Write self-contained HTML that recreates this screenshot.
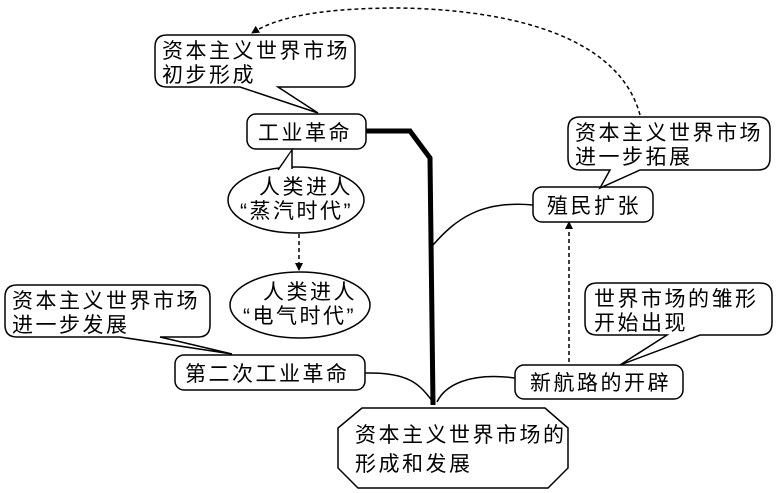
<!DOCTYPE html>
<html><head><meta charset="utf-8"><style>
html,body{margin:0;padding:0;background:#fff;}
svg{display:block;}
text{font-family:"Liberation Sans","Noto Sans CJK SC",sans-serif;font-size:21px;letter-spacing:2.5px;fill:#000;}
</style></head><body>
<svg width="779" height="493" viewBox="0 0 779 493" xmlns="http://www.w3.org/2000/svg">
<defs>
<marker id="ah" markerWidth="8" markerHeight="8" refX="7" refY="4" orient="auto" markerUnits="userSpaceOnUse"><path d="M0,0 L8,4 L0,8 z" fill="#000"/></marker>
</defs>
<g fill="none" stroke="#000" stroke-width="1.5">
<path d="M366,131 L410,131 L430,158 L433,405" stroke-width="5"/>
<path d="M365,373 C410,372 420,385 433,402"/>
<path d="M515,378 C470,372 445,385 437,402"/>
<path d="M533,205 C480,200 455,220 433,245"/>
<path d="M299,234 L299,270" stroke-dasharray="4,3" marker-end="url(#ah)"/>
<path d="M569,362 L569,222" stroke-dasharray="4,3" marker-end="url(#ah)"/>
<path d="M640,115 C620,40 520,10 400,8 C330,8 280,15 252,33" stroke-dasharray="4,3" marker-end="url(#ah)"/>
</g>
<g fill="#fff" stroke="#000" stroke-width="1.5">
<path d="M167,35 L343,35 Q355,35 355,47 L355,75 Q355,87 343,87 L278,87 L318,113 L240,87 L167,87 Q155,87 155,75 L155,47 Q155,35 167,35 Z"/>
<rect x="247" y="114" width="119" height="35" rx="9"/>
<ellipse cx="296" cy="200" rx="68" ry="33"/>
<path d="M278,170 L292,150 L292,169" />
<path d="M279,171 L291,152 L291,170 Z" stroke="none"/>
<ellipse cx="300" cy="305" rx="70" ry="33"/>
<path d="M17,285 L198,285 Q210,285 210,297 L210,325 Q210,337 198,337 L160,337 L232,354 L120,337 L17,337 Q5,337 5,325 L5,297 Q5,285 17,285 Z"/>
<rect x="175" y="355" width="190" height="35" rx="9"/>
<path d="M362,408 L545,408 L568,428 L568,468 L548,488 L358,488 L338,468 L338,428 Z"/>
<rect x="515" y="365" width="168" height="34" rx="9"/>
<path d="M597,283 L760,283 Q772,283 772,295 L772,323 Q772,335 760,335 L700,335 L620,365 L667,335 L597,335 Q585,335 585,323 L585,295 Q585,283 597,283 Z"/>
<rect x="533" y="187" width="120" height="35" rx="9"/>
<path d="M580,117 L758,117 Q770,117 770,129 L770,158 Q770,170 758,170 L640,170 L600,188 L610,170 L580,170 Q568,170 568,158 L568,129 Q568,117 580,117 Z"/>
</g>
<text x="162" y="58">资本主义世界市场</text>
<text x="162" y="82">初步形成</text>
<text x="258" y="140">工业革命</text>
<text x="259" y="194">人类进人</text>
<text x="240" y="218">“蒸汽时代”</text>
<text x="263" y="299">人类进人</text>
<text x="243" y="323">“电气时代”</text>
<text x="12" y="308">资本主义世界市场</text>
<text x="12" y="332">进一步发展</text>
<text x="185" y="381">第二次工业革命</text>
<text x="355" y="442">资本主义世界市场的</text>
<text x="355" y="471">形成和发展</text>
<text x="530" y="390">新航路的开辟</text>
<text x="594" y="306">世界市场的雏形</text>
<text x="594" y="330">开始出现</text>
<text x="547" y="213">殖民扩张</text>
<text x="575" y="140">资本主义世界市场</text>
<text x="575" y="164">进一步拓展</text>
</svg>
</body></html>
